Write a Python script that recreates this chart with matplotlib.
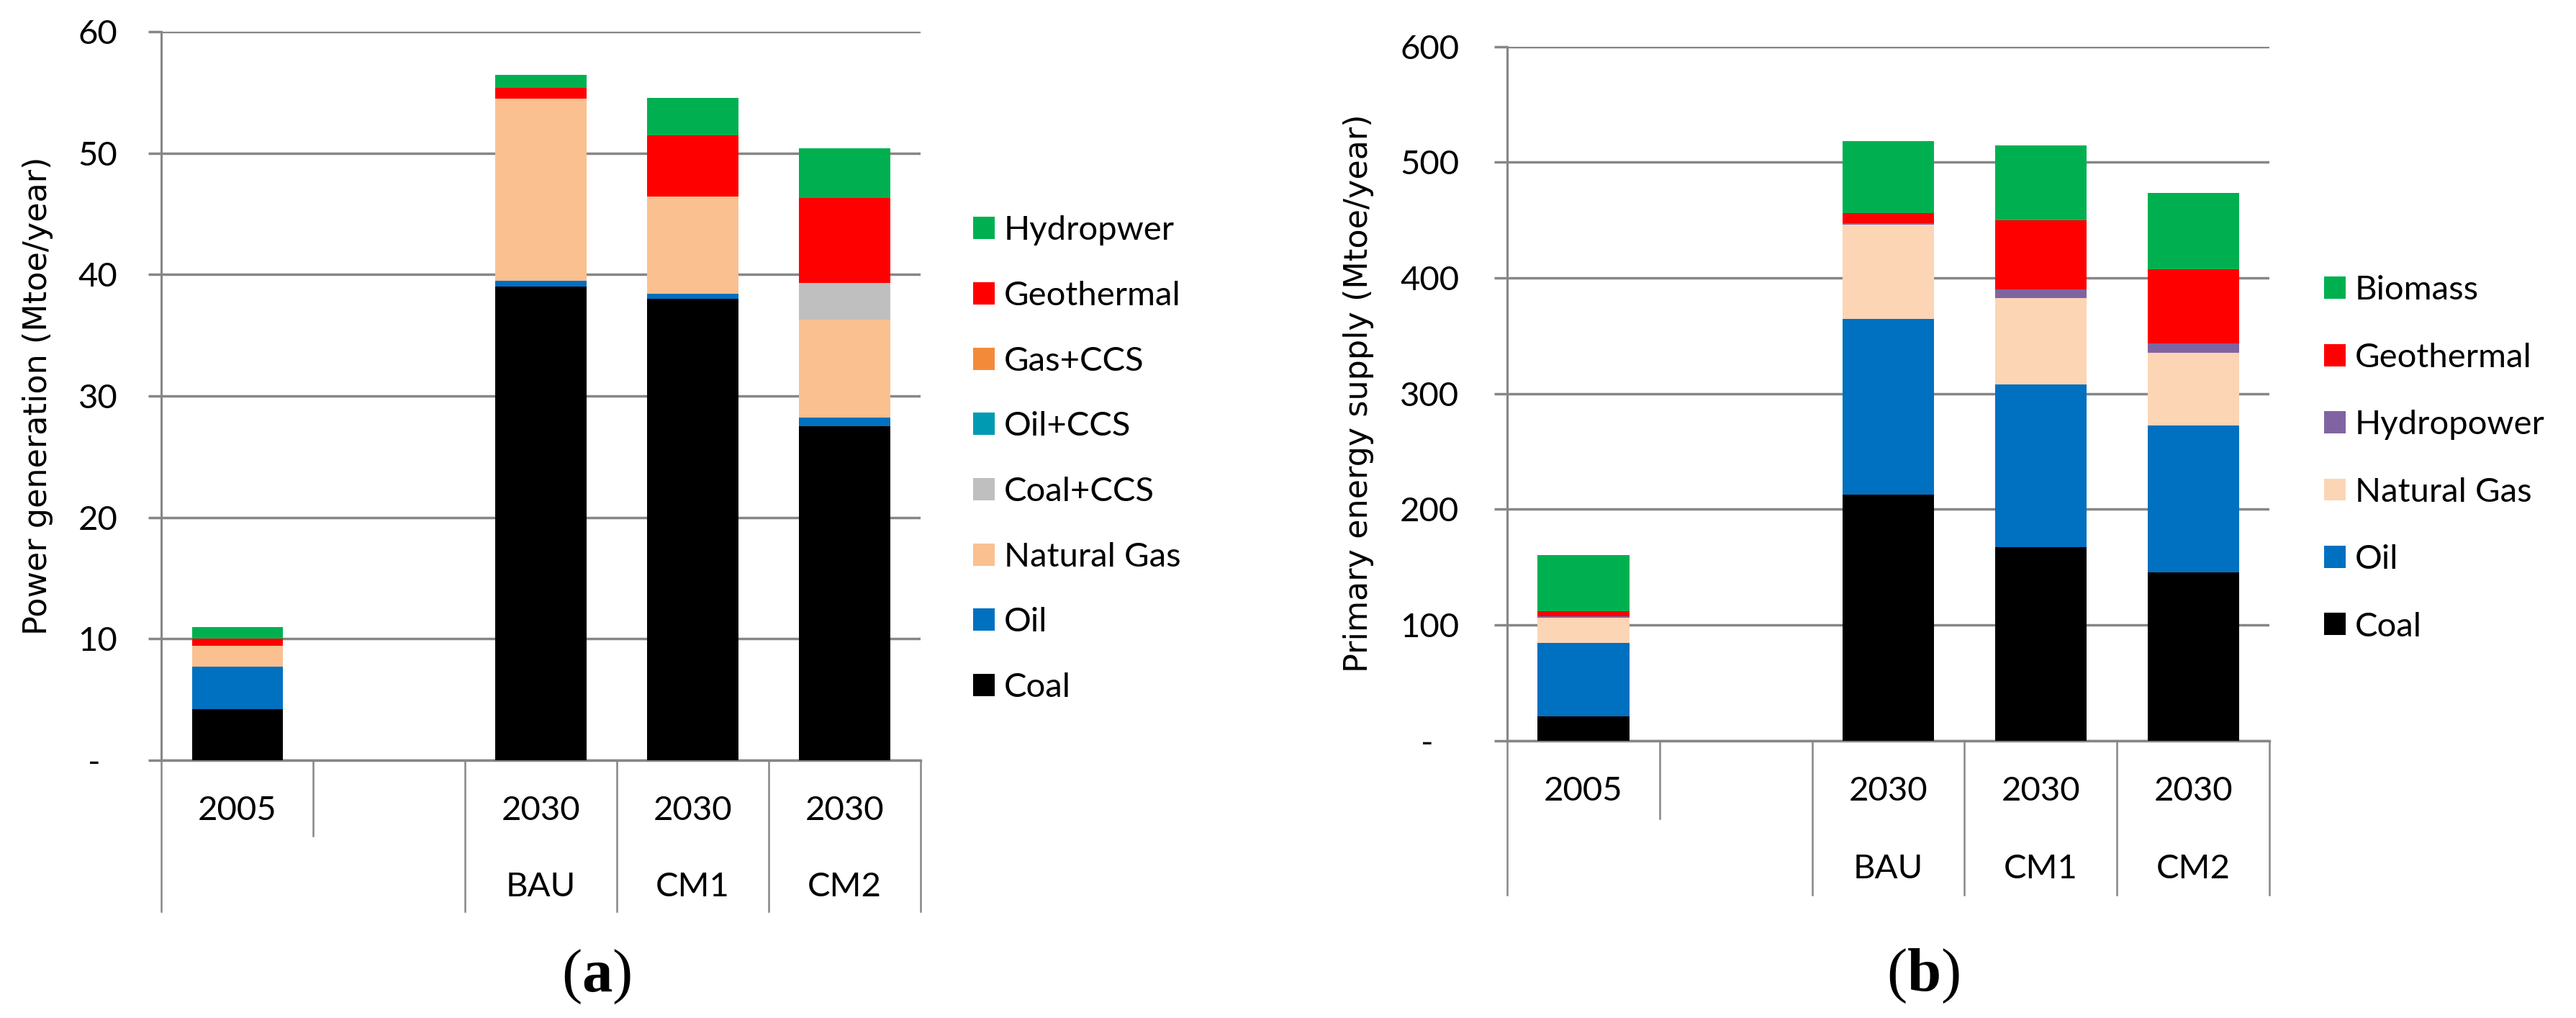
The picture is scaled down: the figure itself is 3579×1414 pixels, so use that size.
import numpy as np
import matplotlib
matplotlib.use("Agg")
import matplotlib.pyplot as plt
from matplotlib.patches import Patch
from matplotlib import transforms

# categories (index 1 is an empty spacer slot)
years = ["2005", "", "2030", "2030", "2030"]
scenarios = ["", "", "BAU", "CM1", "CM2"]

# (a) power generation, Mtoe/year (stack increments, bottom to top)
pg_coal = [4.2, 0, 39.0, 38.0, 27.5]
pg_oil = [3.5, 0, 0.5, 0.45, 0.7]
pg_gas = [1.7, 0, 15.0, 8.0, 8.1]
pg_coal_ccs = [0, 0, 0, 0, 3.0]
pg_oil_ccs = [0, 0, 0, 0, 0]
pg_gas_ccs = [0, 0, 0, 0, 0]
pg_geo = [0.6, 0, 0.9, 5.0, 7.0]
pg_hydro = [0.95, 0, 1.05, 3.1, 4.1]

# (b) primary energy supply, Mtoe/year
pes_coal = [21.0, 0, 212.7, 167.2, 145.4]
pes_oil = [63.7, 0, 151.9, 140.7, 127.1]
pes_gas = [21.9, 0, 81.3, 74.6, 62.9]
pes_hydro = [0.8, 0, 1.7, 7.5, 7.8]
pes_geo = [4.8, 0, 8.3, 59.8, 64.2]
pes_bio = [48.1, 0, 62.4, 64.6, 66.0]

series_a = [
    ("Coal", pg_coal, "#000000"),
    ("Oil", pg_oil, "#0070C0"),
    ("Natural Gas", pg_gas, "#FAC090"),
    ("Coal+CCS", pg_coal_ccs, "#BFBFBF"),
    ("Oil+CCS", pg_oil_ccs, "#009AB2"),
    ("Gas+CCS", pg_gas_ccs, "#F38A3A"),
    ("Geothermal", pg_geo, "#FF0000"),
    ("Hydropwer", pg_hydro, "#00B050"),
]
series_b = [
    ("Coal", pes_coal, "#000000"),
    ("Oil", pes_oil, "#0070C0"),
    ("Natural Gas", pes_gas, "#FCD5B5"),
    ("Hydropower", pes_hydro, "#8064A2"),
    ("Geothermal", pes_geo, "#FF0000"),
    ("Biomass", pes_bio, "#00B050"),
]

GRID = "#868686"
TICKFONT = "Lato"
FS = 34

plt.rcParams["mathtext.fontset"] = "custom"
plt.rcParams["mathtext.rm"] = "Liberation Serif"
plt.rcParams["mathtext.bf"] = "Liberation Serif:bold"

fig = plt.figure(figsize=(35.79, 14.14), dpi=100)


def draw_panel(rect, series, ymax, step, ylabel, ylab_xy, leg_xy, spacing,
               cat_y, pad, zero_label):
    ax = fig.add_axes(rect)
    x = np.arange(len(years))
    bottom = np.zeros(len(years))
    handles = []
    for name, vals, col in series:
        vals = np.array(vals, dtype=float)
        ax.bar(x, vals, 0.6, bottom=bottom, color=col, linewidth=0, zorder=3)
        bottom += vals
        handles.append(Patch(facecolor=col, edgecolor="none", label=name))

    ax.set_xlim(-0.5, len(years) - 0.5)
    ax.set_ylim(0, ymax)
    ticks = np.arange(0, ymax + step, step)
    ax.set_yticks(ticks)
    ax.set_yticklabels([zero_label] + [f"{t:g}" for t in ticks[1:]],
                       fontsize=FS, family=TICKFONT)
    ax.tick_params(axis="y", length=13, width=2.5, color=GRID, pad=pad)
    ax.set_xticks([])
    ax.yaxis.grid(True, color=GRID, linewidth=2.5, zorder=0)
    ax.set_axisbelow(True)
    for s in ["top", "right"]:
        ax.spines[s].set_visible(False)
    ax.spines["left"].set_color(GRID)
    ax.spines["left"].set_linewidth(2.2)
    ax.spines["bottom"].set_color(GRID)
    ax.spines["bottom"].set_linewidth(2.5)

    # two-level category axis
    trans = transforms.blended_transform_factory(ax.transData, ax.transAxes)
    y_year, y_short, y_scen, y_long = cat_y
    for i, xd in enumerate(np.arange(-0.5, len(years), 1.0)):
        end = y_short if i == 1 else y_long
        ax.plot([xd, xd], [0, end], color=GRID, linewidth=1.8,
                transform=trans, clip_on=False)
    for i in range(len(years)):
        ax.text(i, y_year, years[i], transform=trans, ha="center",
                va="center", fontsize=FS, family=TICKFONT)
        ax.text(i, y_scen, scenarios[i], transform=trans, ha="center",
                va="center", fontsize=FS, family=TICKFONT)

    fig.text(ylab_xy[0], ylab_xy[1], ylabel, rotation=90, ha="center",
             va="center", fontsize=32, family="DejaVu Sans")

    ax.legend(handles=handles[::-1], loc="center left",
              bbox_to_anchor=leg_xy, bbox_transform=fig.transFigure,
              frameon=False, prop={"family": TICKFONT, "size": FS},
              handlelength=0.63, handleheight=0.63, handletextpad=0.28,
              labelspacing=spacing, borderpad=0, borderaxespad=0)
    return ax


draw_panel([0.0627, 0.2532, 0.2946, 0.7155], series_a, 60, 10,
           "Power generation (Mtoe/year)", (0.0148, 0.611),
           (0.3778, 0.549), 1.03, (-0.069, -0.1034, -0.1735, -0.2075), 31,
           "-  ")

draw_panel([0.5851, 0.2724, 0.2959, 0.6819], series_b, 600, 100,
           "Primary energy supply (Mtoe/year)", (0.5275, 0.614),
           (0.9022, 0.5496), 1.09, (-0.0731, -0.1122, -0.1846, -0.2224), 35,
           "-   ")

fig.text(0.2315, 0.0405, r"($\mathbf{a}$)", ha="center", va="center",
         fontsize=61, family="Liberation Serif")
fig.text(0.7466, 0.0412, r"($\mathbf{b}$)", ha="center", va="center",
         fontsize=61, family="Liberation Serif")

fig.savefig("out.png", dpi=100)
